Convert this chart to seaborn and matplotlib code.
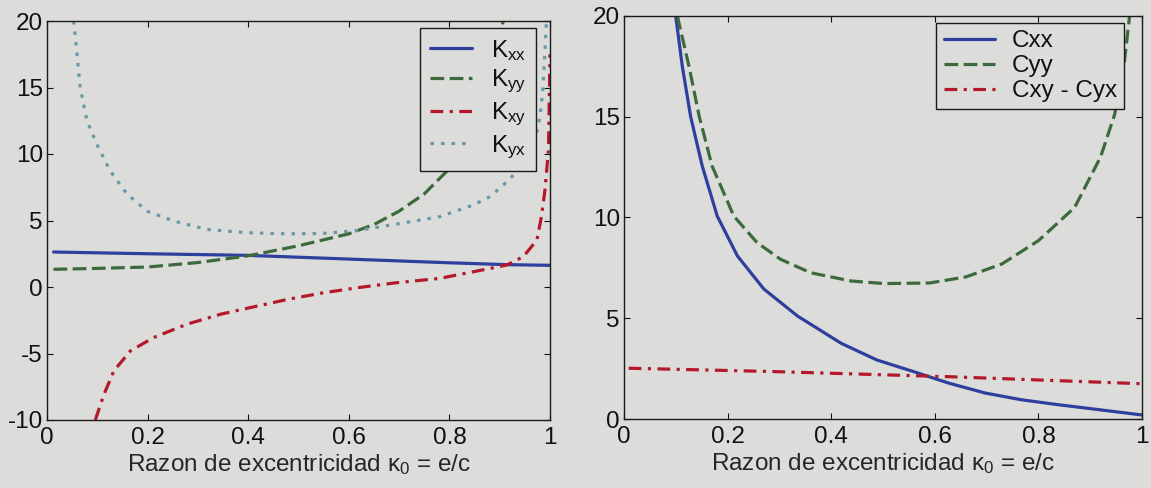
import matplotlib
matplotlib.use("Agg")
import matplotlib.pyplot as plt
import seaborn as sns

# ---- data ----
kxx_x = [0.013, 0.2, 0.398, 0.6, 0.8, 0.914, 1.0]
kxx_y = [2.63, 2.5, 2.38, 2.1, 1.82, 1.68, 1.63]

kyy_x = [0.013, 0.1, 0.199, 0.298, 0.398, 0.5, 0.6, 0.65, 0.7, 0.75, 0.8, 0.85, 0.88, 0.9, 0.907]
kyy_y = [1.33, 1.4, 1.5, 1.83, 2.33, 3.1, 4.0, 4.7, 5.7, 7.0, 8.9, 12.0, 15.3, 18.7, 20.0]

kxy_x = [0.096, 0.113, 0.133, 0.166, 0.212, 0.278, 0.345, 0.398, 0.476, 0.547, 0.618,
         0.69, 0.781, 0.848, 0.914, 0.947, 0.974, 0.983, 0.99, 0.997, 1.0]
kxy_y = [-10.0, -8.1, -6.3, -4.8, -3.8, -2.8, -2.05, -1.6, -0.95, -0.45, -0.05,
         0.3, 0.65, 1.15, 1.65, 2.28, 3.53, 5.3, 7.3, 10.3, 17.5]

kyx_x = [0.053, 0.0596, 0.066, 0.0795, 0.0994, 0.126, 0.159, 0.199, 0.252, 0.318, 0.398,
         0.476, 0.547, 0.618, 0.69, 0.781, 0.848, 0.881, 0.92, 0.95, 0.97, 0.98, 0.985,
         0.989, 0.993]
kyx_y = [20.0, 17.5, 15.0, 12.5, 10.7, 8.7, 7.0, 5.7, 4.96, 4.33, 4.08,
         4.0, 4.02, 4.25, 4.7, 5.29, 6.17, 6.8, 8.1, 9.5, 11.0, 12.8, 14.5,
         17.0, 20.0]

cxx_x = [0.0998, 0.1126, 0.1287, 0.151, 0.180, 0.219, 0.270, 0.335, 0.419, 0.488, 0.558,
         0.627, 0.697, 0.766, 0.835, 0.905, 1.0]
cxx_y = [20.0, 17.5, 15.0, 12.56, 10.07, 8.09, 6.45, 5.11, 3.76, 2.93, 2.36,
         1.78, 1.29, 0.96, 0.72, 0.5, 0.2]

cyy_x = [0.103, 0.1255, 0.145, 0.170, 0.212, 0.257, 0.302, 0.36, 0.438, 0.502, 0.59,
         0.66, 0.73, 0.80, 0.87, 0.92, 0.947, 0.965, 0.976]
cyy_y = [20.0, 17.5, 15.04, 12.56, 10.07, 8.75, 7.93, 7.26, 6.85, 6.72, 6.75,
         7.05, 7.7, 8.85, 10.5, 13.0, 15.1, 17.5, 20.0]

cxy_x = [0.009, 0.28, 0.627, 1.0]
cxy_y = [2.52, 2.36, 2.1, 1.75]

left_labels = [r"$\mathregular{K_{xx}}$", r"$\mathregular{K_{yy}}$",
               r"$\mathregular{K_{xy}}$", r"$\mathregular{K_{yx}}$"]
right_labels = ["Cxx", "Cyy", "Cxy - Cyx"]
xticks = [0, 0.2, 0.4, 0.6, 0.8, 1]
xtick_labels = ["0", "0.2", "0.4", "0.6", "0.8", "1"]
left_yticks = [-10, -5, 0, 5, 10, 15, 20]
right_yticks = [0, 5, 10, 15, 20]
xlabel = r"Razon de excentricidad $\mathregular{\kappa_0}$ = e/c"

# ---- style ----
paper = "#dcddda"
blue, green, red, cyan = "#2f3f9e", "#3d6a3d", "#b3192b", "#6b98a8"
sns.set_style("ticks")
plt.rcParams["font.family"] = ["Liberation Sans", "DejaVu Sans"]
plt.rcParams["mathtext.fontset"] = "custom"
plt.rcParams["mathtext.rm"] = "Liberation Sans"
plt.rcParams["mathtext.it"] = "Liberation Sans:italic"
plt.rcParams["mathtext.cal"] = "Liberation Sans"
plt.rcParams["text.color"] = "#111111"
plt.rcParams["axes.unicode_minus"] = False

fs = 17.5
fig = plt.figure(figsize=(11.51, 4.88), dpi=100, facecolor=paper)
axL = fig.add_axes([47/1151, 1-420/488, 503/1151, 399/488])
axR = fig.add_axes([624/1151, 1-419/488, 518/1151, 403/488])

lw = 2.3
DASH = (4.3, 1.7)
DASHDOT = (4.0, 2.0, 1.0, 2.0)
DOT = (1.1, 2.2)

def add(ax, x, y, color, dashes, label):
    sns.lineplot(x=x, y=y, ax=ax, color=color, linewidth=lw, label=label,
                 sort=False, estimator=None)
    line = ax.lines[-1]
    if dashes is not None:
        line.set_dashes(dashes)
    line.set_dash_capstyle("butt")
    line.set_solid_joinstyle("round")
    line.set_dash_joinstyle("round")

add(axL, kxx_x, kxx_y, blue, None, left_labels[0])
add(axL, kyy_x, kyy_y, green, DASH, left_labels[1])
add(axL, kxy_x, kxy_y, red, DASHDOT, left_labels[2])
add(axL, kyx_x, kyx_y, cyan, DOT, left_labels[3])

add(axR, cxx_x, cxx_y, blue, None, right_labels[0])
add(axR, cyy_x, cyy_y, green, DASH, right_labels[1])
add(axR, cxy_x, cxy_y, red, DASHDOT, right_labels[2])

for ax, yt, ylim in [(axL, left_yticks, (-10, 20)), (axR, right_yticks, (0, 20))]:
    ax.set_facecolor(paper)
    ax.set_xlim(0, 1)
    ax.set_ylim(*ylim)
    ax.set_xticks(xticks)
    ax.set_xticklabels(xtick_labels)
    ax.set_yticks(yt)
    ax.tick_params(direction="in", length=4, width=0.8, top=True, right=True,
                   labelsize=fs, colors="#111111", pad=5)
    ax.tick_params(axis="y", pad=3)
    for s in ax.spines.values():
        s.set_visible(True)
        s.set_color("#1a1a1a")
        s.set_linewidth(1.0)
    ax.set_xlabel(xlabel, fontsize=fs, labelpad=2)
    ax.set_ylabel("")

legL = axL.legend(loc="upper right", bbox_to_anchor=(536/1151, 1-28/488),
                  bbox_transform=fig.transFigure, borderaxespad=0,
                  fontsize=fs, frameon=True, fancybox=False, framealpha=1,
                  facecolor=paper, edgecolor="#1a1a1a", handlelength=1.7,
                  handletextpad=0.8, labelspacing=0.22, borderpad=0.4)
legL.get_frame().set_linewidth(1.0)
legR = axR.legend(loc="upper right", bbox_to_anchor=(1124/1151, 1-23/488),
                  bbox_transform=fig.transFigure, borderaxespad=0,
                  fontsize=fs, frameon=True, fancybox=False, framealpha=1,
                  facecolor=paper, edgecolor="#1a1a1a", handlelength=2.1,
                  handletextpad=0.7, labelspacing=0.12, borderpad=0.3)
legR.get_frame().set_linewidth(1.0)

fig.savefig("out.png", dpi=100, facecolor=paper)
